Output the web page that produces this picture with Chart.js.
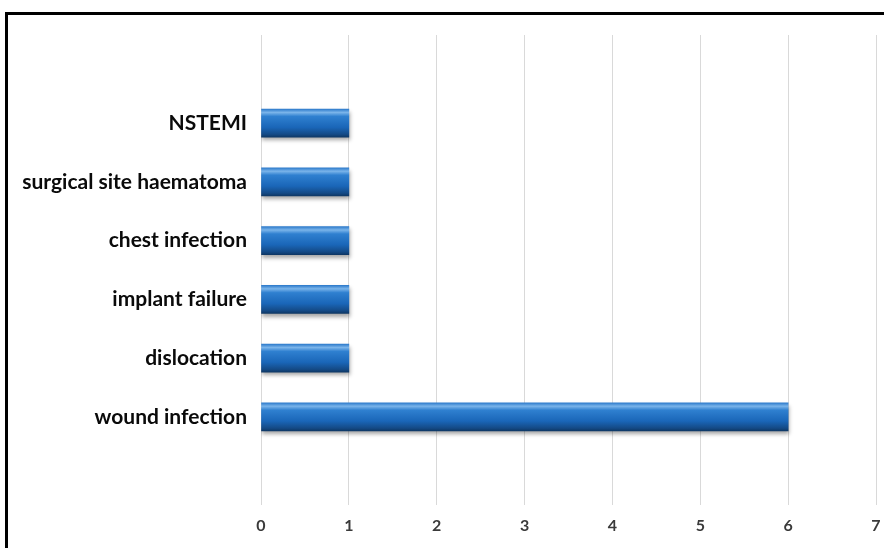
<!DOCTYPE html>
<html>
<head>
<meta charset="utf-8">
<script src="https://cdn.jsdelivr.net/npm/chart.js@4.4.1/dist/chart.umd.min.js"></script>
<style>
  html, body { margin: 0; padding: 0; background: #fff; }
  #wrap { position: relative; width: 884px; height: 548px; }
  #frame {
    position: absolute; left: 5px; top: 12px; right: 0; bottom: 0;
    border-top: 3px solid #000; border-left: 3px solid #000;
    pointer-events: none;
  }
</style>
</head>
<body>
<div id="wrap">
  <canvas id="complications" width="884" height="548"></canvas>
  <div id="frame"></div>
</div>
<script>
// categories, top to bottom (blank slots at both ends as in the original plot area)
const complications = ['', 'NSTEMI', 'surgical site haematoma', 'chest infection', 'implant failure', 'dislocation', 'wound infection', ''];
const patientCounts = [null, 1, 1, 1, 1, 1, 6, null];
const axisMin = 0;
const axisMax = 7;

const BAR_H = 28;

// vertical gradient per bar, gives the rounded "tube" look
function barFill(context) {
  const chart = context.chart;
  const yScale = chart.scales.y;
  if (!chart.chartArea || !yScale) return '#1f6fc0';
  const yc = yScale.getPixelForValue(context.dataIndex);
  const g = chart.ctx.createLinearGradient(0, yc - BAR_H / 2, 0, yc + BAR_H / 2);
  g.addColorStop(0, '#2f7ccc');
  g.addColorStop(0.12, '#7ab4ea');
  g.addColorStop(0.26, '#2f80d0');
  g.addColorStop(0.65, '#1a66b8');
  g.addColorStop(0.9, '#144a86');
  g.addColorStop(1, '#0e3866');
  return g;
}

const shadowPlugin = {
  id: 'barShadow',
  beforeDatasetDraw(chart) {
    const ctx = chart.ctx;
    ctx.save();
    ctx.shadowColor = 'rgba(0,0,0,0.35)';
    ctx.shadowBlur = 4;
    ctx.shadowOffsetY = 3;
    ctx.shadowOffsetX = 1;
  },
  afterDatasetDraw(chart) {
    chart.ctx.restore();
  }
};

const ctx = document.getElementById('complications').getContext('2d');
new Chart(ctx, {
  type: 'bar',
  data: {
    labels: complications,
    datasets: [{
      data: patientCounts,
      backgroundColor: barFill,
      borderWidth: 0,
      barThickness: BAR_H
    }]
  },
  plugins: [shadowPlugin],
  options: {
    indexAxis: 'y',
    responsive: false,
    animation: false,
    layout: { padding: { left: 0, right: 8, top: 35, bottom: 8 } },
    plugins: {
      legend: { display: false },
      tooltip: { enabled: false }
    },
    scales: {
      x: {
        min: axisMin,
        max: axisMax,
        ticks: {
          stepSize: 1,
          padding: 11,
          maxRotation: 0,
          color: '#3a3a3a',
          font: { family: 'Lato', size: 16, weight: 'bold' }
        },
        grid: { color: '#d9d9d9', lineWidth: 1, drawTicks: false },
        border: { display: false },
        afterFit(scale) {
          scale.height = 35;
          scale.paddingLeft = 0;
          scale.paddingRight = 0;
        }
      },
      y: {
        ticks: {
          padding: 14,
          color: '#0a0a0a',
          font: { family: 'Lato', size: 21, weight: 'bold' }
        },
        grid: { display: false, drawTicks: false },
        border: { display: false },
        afterFit(scale) { scale.width = 261; }
      }
    }
  }
});
</script>
</body>
</html>
